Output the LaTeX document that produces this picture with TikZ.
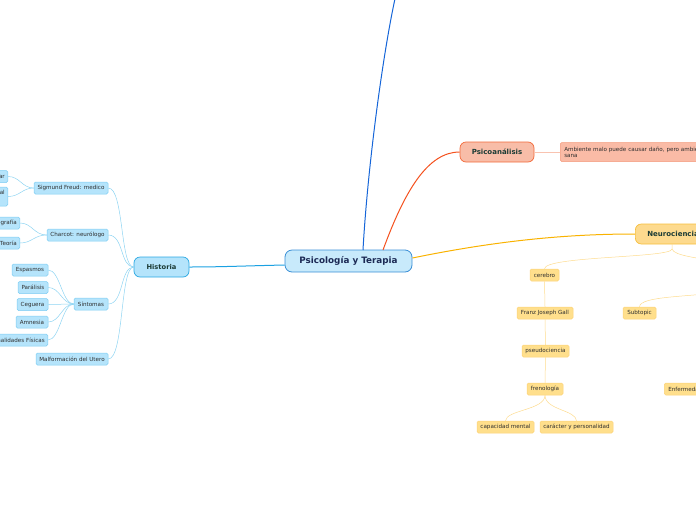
\documentclass[tikz,border=0pt]{standalone}
\usepackage{fontspec}
\setmainfont{DejaVu Sans}
\begin{document}
\begin{tikzpicture}[x=1pt,y=-1pt,
  mainbox/.style={draw=mainB, fill=mainF, line width=0.8pt, rounded corners=7pt, minimum width=127pt, minimum height=22pt, font=\fontsize{8.8}{10}\selectfont\bfseries, text=mainT, inner sep=0pt},
  histbox/.style={draw=histB, fill=histF, line width=0.7pt, rounded corners=6pt, minimum height=20pt, font=\fontsize{6.7}{8}\selectfont\bfseries, text=darkT, inner sep=0pt},
  bsmall/.style={draw=bsB, fill=bsF, line width=0.5pt, rounded corners=1.5pt, minimum height=12pt, font=\fontsize{5.6}{6.5}\selectfont, text=smallT, inner sep=0pt},
  bedge/.style={bsmall, anchor=east, inner xsep=3pt},
  psibox/.style={draw=psiB, fill=psiF, line width=0.7pt, rounded corners=6pt, minimum width=74pt, minimum height=20pt, font=\fontsize{7}{8}\selectfont\bfseries, text=darkT, inner sep=0pt},
  psismall/.style={draw=psiSB, fill=psiSF, line width=0.5pt, rounded corners=1.5pt, font=\fontsize{5.6}{6}\selectfont, text=smallT, inner xsep=4pt, inner ysep=0pt, align=left},
  neubox/.style={draw=neuB, fill=neuF, line width=0.7pt, rounded corners=6pt, minimum height=20pt, font=\fontsize{7}{8}\selectfont\bfseries, text=darkT, inner sep=0pt},
  ysmall/.style={draw=ysB, fill=ysF, line width=0.5pt, rounded corners=1.5pt, minimum height=12pt, font=\fontsize{5.6}{6.5}\selectfont, text=smallT, inner sep=0pt},
  blink/.style={draw=bsL, line width=0.5pt},
  ylink/.style={draw=ysL, line width=0.5pt},
]
\definecolor{mainB}{HTML}{3A8FD6}
\definecolor{mainF}{HTML}{C8EAFB}
\definecolor{mainT}{HTML}{1C2A55}
\definecolor{histB}{HTML}{2AA8E2}
\definecolor{histF}{HTML}{B5E4FB}
\definecolor{darkT}{HTML}{1B3B35}
\definecolor{bsB}{HTML}{7DCDF3}
\definecolor{bsF}{HTML}{B5E4FB}
\definecolor{bsL}{HTML}{8ED4F2}
\definecolor{smallT}{HTML}{2E2E2E}
\definecolor{psiB}{HTML}{F26A3A}
\definecolor{psiF}{HTML}{F8BDA8}
\definecolor{psiSB}{HTML}{F4997A}
\definecolor{psiSF}{HTML}{FABBA6}
\definecolor{neuB}{HTML}{F6BE3C}
\definecolor{neuF}{HTML}{FDDA8E}
\definecolor{ysB}{HTML}{FCD277}
\definecolor{ysF}{HTML}{FFDF8C}
\definecolor{ysL}{HTML}{FDDB8E}
\definecolor{lineBlue}{HTML}{1565D8}
\definecolor{lineHist}{HTML}{1BA1E2}
\definecolor{lineOr}{HTML}{F4511E}
\definecolor{lineY}{HTML}{F9B200}
\definecolor{lineSal}{HTML}{F9C3B0}

\useasboundingbox (0,0) rectangle (696,520);
\clip (0,0) rectangle (696,520);

% main
\node[mainbox] (main) at (348.5,261) {Psicología y Terapia};

% Historia branch
\node[histbox, minimum width=55pt] (hist) at (161.5,267) {Historia};
\node[bsmall, minimum width=74pt] (freud) at (71,188) {Sigmund Freud: medico};
\node[bsmall, minimum width=61pt] (charcot) at (77.5,235) {Charcot: neurólogo};
\node[bsmall, minimum width=34pt] (sint) at (91,304) {Síntomas};
\node[bsmall, minimum width=72pt] (malf) at (72,359) {Malformación del Utero};

\node[bedge] (fr1) at (8,176.5) {Hipnotizar};
\node[bedge, minimum height=19pt, align=right, font=\fontsize{5.6}{7.5}\selectfont] (fr2) at (8,196.5) {Inconsciente sexual\\};
\node[bedge] (ch1) at (20,223) {Fotografía};
\node[bedge] (ch2) at (20,243) {Teoría};

\node[bsmall, minimum width=36pt] (s1) at (30,270) {Espasmos};
\node[bsmall, minimum width=30pt] (s2) at (33,287.5) {Parálisis};
\node[bsmall, minimum width=31pt] (s3) at (32.5,304.5) {Ceguera};
\node[bsmall, minimum width=32pt] (s4) at (32,322) {Amnesia};
\node[bedge] (s5) at (48,340) {Anormalidades Físicas};

% Psicoanalisis
\node[psibox] (psi) at (497,152) {Psicoanálisis};
\node[psismall, anchor=west, minimum height=19pt, text width=240pt] (psi1) at (560,152) {Ambiente malo puede causar daño, pero ambiente\\sana};

% Neurociencia
\node[neubox, anchor=west, minimum width=80pt, align=left, text width=68pt, inner xsep=12pt] (neu) at (635,234) {Neurociencia};
\node[ysmall, minimum width=29pt] (cer) at (544.5,275) {cerebro};
\node[ysmall, minimum width=56pt] (gall) at (545,313) {Franz Joseph Gall};
\node[ysmall, minimum width=47pt] (pseudo) at (545.5,351) {pseudociencia};
\node[ysmall, minimum width=36pt] (fren) at (545,389) {frenología};
\node[ysmall, minimum width=57pt] (cap) at (505.5,427) {capacidad mental};
\node[ysmall, minimum width=73pt] (car) at (576.5,427) {carácter y personalidad};
\node[ysmall, minimum width=33pt] (sub) at (639.5,313) {Subtopic};
\node[ysmall, anchor=west, inner xsep=4pt] (enf) at (664,389) {Enfermedades};

% off-canvas targets
\coordinate (topT) at (397,-10);
\coordinate (neuR) at (720,262);
\coordinate (subR) at (720,292);

% main connectors
\draw[lineBlue, line width=1pt] (363,250) .. controls (368,160) and (385,40) .. (topT);
\draw[lineOr, line width=1pt] (383,250) .. controls (405,190) and (428,152) .. (psi.west);
\draw[lineY, line width=1pt] (main.east |- 0,258) .. controls (500,240) and (570,234) .. (neu.west);
\draw[lineHist, line width=1pt] (main.west |- 0,265) .. controls (240,266) and (220,267) .. (hist.east);

% Historia children
\draw[blink] (hist.west) .. controls (120,267) and (124,188) .. (freud.east);
\draw[blink] (hist.west) .. controls (120,267) and (124,235) .. (charcot.east);
\draw[blink] (hist.west) .. controls (120,267) and (124,304) .. (sint.east);
\draw[blink] (hist.west) .. controls (120,267) and (124,359) .. (malf.east);

\foreach \c in {fr1,fr2}{
  \draw[blink] (freud.west) .. controls (22,188) and (20,0 |- \c.east) .. (\c.east);
}
\foreach \c in {ch1,ch2}{
  \draw[blink] (charcot.west) .. controls (34,235) and (32,0 |- \c.east) .. (\c.east);
}
\foreach \c in {s1,s2,s3,s4,s5}{
  \draw[blink] (sint.west) .. controls (62,304) and (60,0 |- \c.east) .. (\c.east);
}

% Psicoanalisis child
\draw[lineSal, line width=0.6pt] (psi.east) -- (psi1.west);

% Neuro connectors
\draw[ylink] (672,244) -- (672,249) .. controls (672,258) and (545,256) .. (cer.north);
\draw[ylink] (672,249) .. controls (674,256) and (700,258) .. (neuR);
\draw[ylink] (cer.south) -- (gall.north);
\draw[ylink] (gall.south) -- (pseudo.north);
\draw[ylink] (pseudo.south) -- (fren.north);
\draw[ylink] (fren.south) .. controls (545,410) and (506,410) .. (cap.north);
\draw[ylink] (fren.south) .. controls (545,410) and (576,410) .. (car.north);
\draw[ylink] (sub.north) .. controls (640,296) and (690,297) .. (subR);
\end{tikzpicture}
\end{document}
